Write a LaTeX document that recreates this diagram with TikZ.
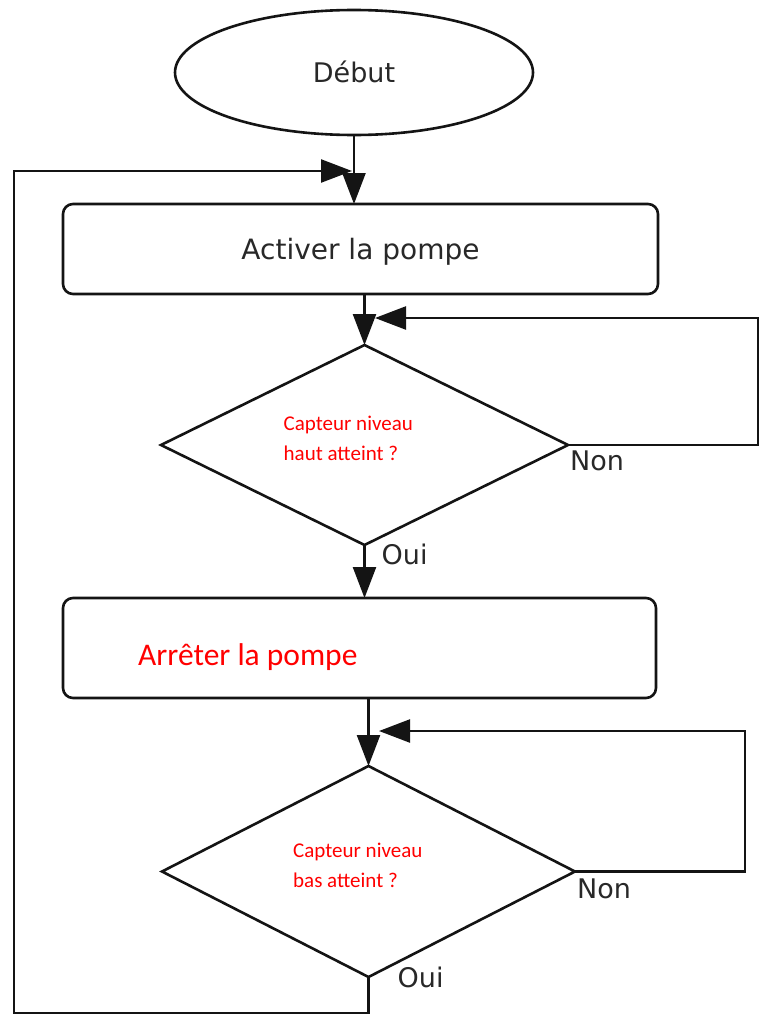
\documentclass[tikz,border=0pt]{standalone}
\usepackage{fontspec}
\setmainfont{DejaVu Sans}
\newfontfamily\calib{Carlito}
\usetikzlibrary{shapes.geometric,arrows.meta}
\definecolor{ink}{RGB}{20,20,20}
\definecolor{txtgray}{RGB}{40,40,40}
\definecolor{redtxt}{RGB}{255,0,0}
\begin{document}
\begin{tikzpicture}[x=1pt,y=-1pt,
  shapeline/.style={draw=ink, line width=2.6pt, outer sep=0pt},
  conn/.style={draw=ink, line width=2.4pt},
  arr/.style={conn, -{Triangle[length=31pt,width=23pt]}},
  blk/.style={text=txtgray, font=\fontsize{27pt}{32pt}\selectfont, inner sep=0pt},
  lbl/.style={blk, anchor=base west},
  redsmall/.style={text=redtxt, font=\calib\fontsize{21pt}{30pt}\selectfont, inner sep=0pt, anchor=base west},
  redbig/.style={text=redtxt, font=\calib\fontsize{31.5pt}{36pt}\selectfont, inner sep=0pt, anchor=base west},
  procbox/.style={rectangle, rounded corners=10pt, shapeline},
  decision/.style={diamond, shapeline, inner sep=0pt}
]
\useasboundingbox[fill=white] (0,0) rectangle (760,1017);

% shapes
\node[ellipse, shapeline, minimum width=358pt, minimum height=125pt, inner sep=0pt,
      blk, text height=19.5pt, text depth=0pt] (start) at (354,72.5) {Début};
\node[procbox, minimum width=595pt, minimum height=90pt, blk,
      font=\fontsize{28pt}{32pt}\selectfont,
      text height=20pt, text depth=0pt] (act) at (360.5,249) {Activer la pompe};
\node[decision, minimum width=407pt, minimum height=200pt] (d1) at (364.5,445) {};
\node[procbox, minimum width=593pt, minimum height=100pt] (stop) at (359.5,648) {};
\node[decision, minimum width=413pt, minimum height=211pt] (d2) at (368.5,871.5) {};

% texts
\node[redsmall] (d1a) at (283.5,430) {Capteur niveau};
\node[redsmall] (d1b) at (283.5,460) {haut atteint ?};
\node[redbig] (stoptxt) at (138,665) {Arrêter la pompe};
\node[redsmall] (d2a) at (293,857) {Capteur niveau};
\node[redsmall] (d2b) at (293,887) {bas atteint ?};
\node[lbl] (non1) at (570,470) {Non};
\node[lbl] (oui1) at (381.5,564) {Oui};
\node[lbl] (non2) at (577,898) {Non};
\node[lbl] (oui2) at (397.5,987) {Oui};

% junction points
\coordinate (j1) at (352,171);
\coordinate (j2) at (375,318);
\coordinate (j3) at (379,731);
\coordinate (r1) at (758,318);
\coordinate (r2) at (745,731);
\coordinate (bl) at (14,1013);
\coordinate (tl) at (14,171);

% connectors
\draw[arr] (start.south) -- (start.south |- act.north);
\draw[arr] (d1.north |- act.south) -- (d1.north);
\draw[arr] (d1.south) -- (d1.south |- stop.north);
\draw[arr] (d2.north |- stop.south) -- (d2.north);
\draw[arr] (d1.east) -| (r1) -- (j2);
\draw[arr] (d2.east) -| (r2) -- (j3);
\draw[arr] (d2.south) |- (bl) -- (tl) -- (j1);
\end{tikzpicture}
\end{document}
